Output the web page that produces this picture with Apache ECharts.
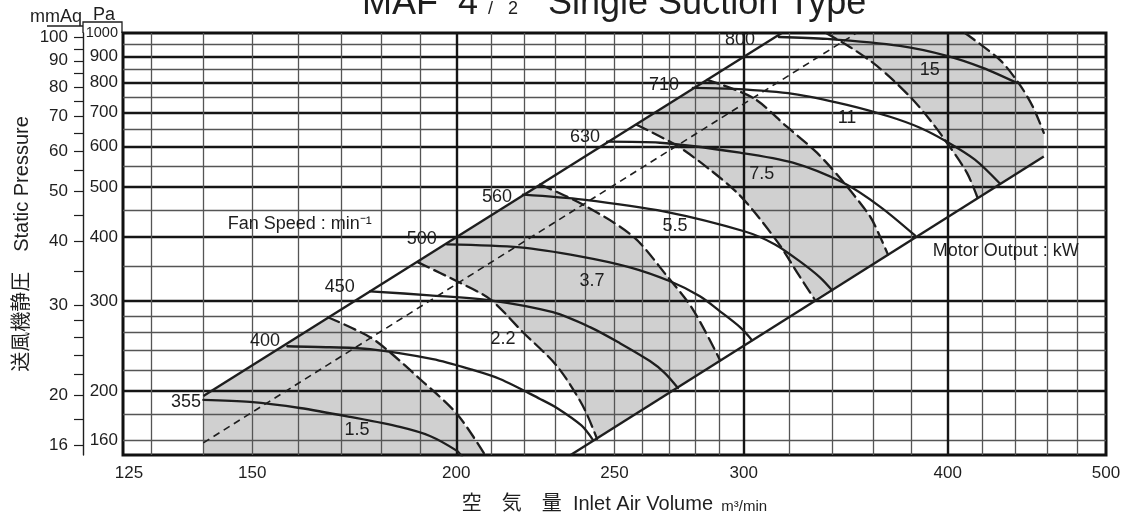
<!DOCTYPE html>
<html><head><meta charset="utf-8">
<script src="https://cdn.jsdelivr.net/npm/echarts@6/dist/echarts.min.js"></script>
<style>html,body{margin:0;padding:0;background:#fff}#c{width:1131px;height:519px}</style>
</head><body><div id="c"></div>
<script>
// ---------- axis values ----------
const xLabelValues = [125,150,200,250,300,400,500];
const xThinGrid = [130,140,150,160,170,180,190,210,220,230,240,250,260,270,280,290,320,340,360,380,420,440,460,480];
const xBoldGrid = [200,300,400];
const paLabelValues = [160,200,300,400,500,600,700,800,900,1000];
const paThinGrid = [160,180,220,240,260,280,350,450,550,650,750,850,950];
const paBoldGrid = [200,300,400,500,600,700,800,900];
const mmAqLabelValues = [16,20,30,40,50,60,70,80,90,100];
const mmAqTickValues = [16,18,20,22,24,26,28,30,35,40,45,50,55,60,65,70,75,80,85,90,95,100];

// ---------- fan speed curves (Q m3/min, P Pa) ----------
const speedNames = ['355','400','450','500','560','630','710','800'];
const speed355 = [[140.0,192.1],[149.5,190.4],[160.4,185.3],[172.2,178.0],[184.7,170.2],[192.7,163.4],[200.2,152.8],[201.6,149]];
const speed400 = [[157.6,244.6],[167.3,243.5],[177.1,241.4],[193.5,230.8],[203.9,220.7],[212.7,211.1],[225.1,193.0],[230.5,185.3],[238.6,171.3],[242.5,160.6]];
const speed450 = [[177.1,313.1],[192.7,307.5],[209.8,300.7],[229.2,285.0],[241.5,266.5],[251.9,248.0],[262.8,228.8],[268.4,216.8],[273.4,202.7]];
const speed500 = [[197.4,386.6],[218.8,381.4],[238.1,366.4],[255.5,348.7],[270.4,327.5],[282.0,306.2],[290.1,286.2],[298.4,266.5],[303.5,251.4]];
const speed560 = [[219.7,483.7],[239.1,473.0],[268.4,448.1],[300.5,409.7],[313.5,386.6],[324.7,358.2],[334.0,333.4],[339.8,314.5]];
const speed630 = [[247.4,613.4],[266.5,610.6],[298.4,583.9],[321.5,558.3],[345.0,510.5],[363.5,458.3],[381.9,402.5]];
const speed710 = [[279.2,781.6],[295.5,778.1],[321.5,760.8],[347.0,724.1],[368.7,686.2],[384.6,653.2],[399.5,613.4],[415.6,565.9],[430.5,508.2]];
const speed800 = [[315.2,982.2],[337.4,973.5],[373.9,943.4],[399.5,902.3],[420.3,854.9],[440.9,799.0]];
const speedLabelQ = [136.6,152.7,169.7,190.5,211.8,239.8,268.1,298.4];
const speedLabelP = [190.4,250.2,318.8,395.4,479.4,627.3,792.1,969.1];

// ---------- motor output limit curves (kW) ----------
const kwNames = ['1.5','2.2','3.7','5.5','7.5','11','15'];
const limit1_5 = [[166.9,278.7],[177.1,254.8],[182.1,238.2],[190.0,211.1],[200.2,180.4],[208.3,150]];
const limit2_2 = [[189.5,356.6],[200.2,327.5],[209.8,302.0],[219.7,260.5],[230.5,223.8],[239.1,187.0],[243.9,161.3]];
const limit3_7 = [[225.1,506],[239.1,462.4],[256.6,400.8],[269.3,334.9],[279.2,288.8],[290.1,229.8]];
const limit5_5 = [[257.9,662.1],[273.0,602.6],[286.0,541.1],[297.1,488.1],[304.7,446.2],[315.7,384.9],[323.4,340.9],[331.5,302.0]];
const limit7_5 = [[284.9,810.0],[303.9,747.3],[318.8,656.1],[332.6,583.9],[345.0,512.8],[358.5,438.3],[363.5,400.8],[367.6,369.7]];
const limit11 = [[336.9,1000],[348.4,939.2],[360.0,874.1],[370.2,810.0],[380.8,740.6],[390.0,677.1],[399.5,610.6],[410.9,533.8],[417.1,477.3]];
const limit15 = [[409.8,1000],[430.5,886.1],[442.8,792.1],[451.0,717.7],[458,638.4]];
const kwLabelQ = [173.9,213.6,242.2,272.3,307.7,347.0,390.0];
const kwLabelP = [167.9,252.6,327.5,419.2,531.4,683.2,847.2];

// ---------- boundary lines ----------
const upperLine = [[140,195.6],[316.5,1000]];
const lowerLine = [[235,150],[458,574]];
const resistLine = [[140,158.4],[351.7,1000]];
const leftEdgeBottom = [140,150];

// ---------- annotation anchors ----------
const fanSpeedNoteAt = [144.9,422.9];
const motorNoteAt = [391.6,374.7];

// ---------- styles ----------
const F = "'Liberation Sans', Arial, 'Noto Sans CJK JP', sans-serif";
const INK = '#1e1e1e';
const GRAY = '#d0d0d0';

const bandA = [leftEdgeBottom, upperLine[0], ...limit1_5];
const bandB = [...limit2_2, ...limit3_7.slice().reverse()];
const bandC = [...limit5_5, ...limit7_5.slice().reverse()];
const bandD = [...limit11, lowerLine[1], ...limit15.slice().reverse()];

function band(name, pts) {
  return {
    type: 'custom', name: name, z: 1, silent: true, clip: true,
    xAxisIndex: 0, yAxisIndex: 0, data: pts,
    renderItem: function (params, api) {
      if (params.dataIndex !== 0) return null;
      const poly = pts.map(p => api.coord(p));
      return { type: 'polygon', shape: { points: poly }, style: { fill: GRAY } };
    }
  };
}
function curve(name, pts, dashed) {
  return {
    type: 'line', name: name, data: pts, symbol: 'none', smooth: 0.3,
    z: 3, silent: true, clip: true, xAxisIndex: 0, yAxisIndex: 0,
    lineStyle: { color: INK, width: 2.3, type: dashed ? [12, 6] : 'solid', cap: 'round', join: 'round' }
  };
}
function straight(name, pts, type, width) {
  return {
    type: 'line', name: name, data: pts, symbol: 'none', z: 3, silent: true, clip: true,
    lineStyle: { color: INK, width: width, type: type }
  };
}

const speedCurves = [speed355, speed400, speed450, speed500, speed560, speed630, speed710, speed800];
const limitCurves = [limit1_5, limit2_2, limit3_7, limit5_5, limit7_5, limit11, limit15];

const series = [
  band('1.5 kW band', bandA), band('3.7 kW band', bandB), band('7.5 kW band', bandC), band('15 kW band', bandD),
  straight('upper', upperLine, 'solid', 2.4),
  straight('lower', lowerLine, 'solid', 2.4),
  straight('resistance', resistLine, [7, 5], 1.6)
];
speedCurves.forEach((c, i) => series.push(curve(speedNames[i] + ' min-1', c, false)));
limitCurves.forEach((c, i) => series.push(curve(kwNames[i] + ' kW', c, true)));
const labelText = { color: INK, fontFamily: F, fontSize: 18, opacity: 1 };
series.push({
  type: 'scatter', name: 'speed labels', symbolSize: 0, z: 5, silent: true, itemStyle: { opacity: 1 },
  data: speedNames.map((n, i) => ({ name: n, value: [speedLabelQ[i], speedLabelP[i]] })),
  label: Object.assign({ show: true, position: 'inside', formatter: '{b}' }, labelText)
});
series.push({
  type: 'scatter', name: 'kW labels', symbolSize: 0, z: 5, silent: true, itemStyle: { opacity: 1 },
  data: kwNames.map((n, i) => ({ name: n, value: [kwLabelQ[i], kwLabelP[i]] })),
  label: Object.assign({ show: true, position: 'inside', formatter: '{b}' }, labelText)
});
series.push({
  type: 'scatter', name: 'notes', symbolSize: 0, z: 5, silent: true, itemStyle: { opacity: 1 },
  data: [
    { name: 'Fan Speed : min⁻¹', value: fanSpeedNoteAt },
    { name: 'Motor Output : kW', value: motorNoteAt }
  ],
  label: { show: true, position: 'right', distance: 0, formatter: '{b}', color: INK, fontFamily: F, fontSize: 18, opacity: 1 }
});

const axisText = { color: INK, fontFamily: F, fontSize: 17 };
const option = {
  animation: false,
  backgroundColor: '#fff',
  title: {
    text: '{b|MAF  4}{s|  /   2}{b|   Single Suction Type}',
    left: 357, top: -19,
    textStyle: { rich: {
      b: { fontSize: 36, fontFamily: F, color: INK, fontWeight: 'normal' },
      s: { fontSize: 18, fontFamily: F, color: INK, fontWeight: 'normal', verticalAlign: 'bottom', padding: [0, 0, 4, 0] }
    } }
  },
  grid: { left: 123, right: 25, top: 33, bottom: 63, show: true, borderColor: '#111', borderWidth: 3, z: 2 },
  xAxis: [
    { type: 'log', min: 125, max: 500, z: 2,
      axisLine: { show: false },
      axisTick: { show: false, customValues: xThinGrid },
      axisLabel: { show: true, customValues: xLabelValues, margin: 10,
        formatter: v => (Math.round(v) === 125 ? '{p|125}' : String(Math.round(v))),
        rich: { p: { padding: [0, 0, 0, 12], color: INK, fontFamily: F, fontSize: 17 } },
        ...axisText },
      splitLine: { show: true, lineStyle: { color: '#555', width: 1.3 } },
      name: '{a|空　気　量  Inlet Air Volume}{b|  m³/min}', nameLocation: 'middle', nameGap: 39,
      nameTextStyle: { rich: {
        a: { fontSize: 20, fontFamily: F, color: INK },
        b: { fontSize: 15, fontFamily: F, color: INK, verticalAlign: 'bottom' }
      } }
    },
    { type: 'log', min: 125, max: 500, position: 'top', z: 2,
      axisLine: { show: false }, axisLabel: { show: false },
      axisTick: { show: false, customValues: xBoldGrid },
      splitLine: { show: true, lineStyle: { color: '#151515', width: 2.4 } }
    }
  ],
  yAxis: [
    { type: 'log', min: 150, max: 1000, z: 2,
      axisLine: { show: false },
      axisTick: { show: false, customValues: paThinGrid },
      axisLabel: { show: true, customValues: paLabelValues, margin: 5,
        formatter: v => (Math.round(v) === 1000 ? '{c|1000}' : String(Math.round(v))),
        rich: { c: { fontSize: 14.5, fontFamily: F, color: INK } },
        ...axisText },
      splitLine: { show: true, lineStyle: { color: '#555', width: 1.3 } }
    },
    { type: 'log', min: 150, max: 1000, position: 'left', z: 2,
      axisLine: { show: false }, axisLabel: { show: false },
      axisTick: { show: false, customValues: paBoldGrid },
      splitLine: { show: true, lineStyle: { color: '#151515', width: 2.4 } }
    },
    { type: 'log', min: 150 / 9.80665, max: 1000 / 9.80665, position: 'left', offset: 40, z: 2,
      axisLine: { show: true, lineStyle: { color: INK, width: 1.4 } },
      axisTick: { show: true, customValues: mmAqTickValues, length: 9, lineStyle: { color: INK, width: 1.2 } },
      axisLabel: { show: true, customValues: mmAqLabelValues, margin: 15,
        formatter: v => String(Math.round(v)), ...axisText },
      splitLine: { show: false },
      name: '送風機静圧　Static Pressure', nameLocation: 'middle', nameGap: 51, nameRotate: 90,
      nameMoveOverlap: false,
      nameTextStyle: { fontSize: 20, fontFamily: F, color: INK }
    }
  ],
  graphic: [
    { type: 'text', left: 30, top: 8, style: { text: 'mmAq', fontSize: 18, fontFamily: F, fill: INK } },
    { type: 'text', left: 93, top: 6, style: { text: 'Pa', fontSize: 18, fontFamily: F, fill: INK } },
    { type: 'polyline', shape: { points: [[47, 26], [83, 26]] }, style: { stroke: INK, lineWidth: 1.3, fill: null } },
    { type: 'polyline', shape: { points: [[83, 33], [83, 22], [122, 22], [122, 33]] }, style: { stroke: INK, lineWidth: 1.3, fill: null } }
  ],
  series: series
};
const chart = echarts.init(document.getElementById('c'), null, { renderer: 'canvas' });
chart.setOption(option);
</script>
</body></html>
